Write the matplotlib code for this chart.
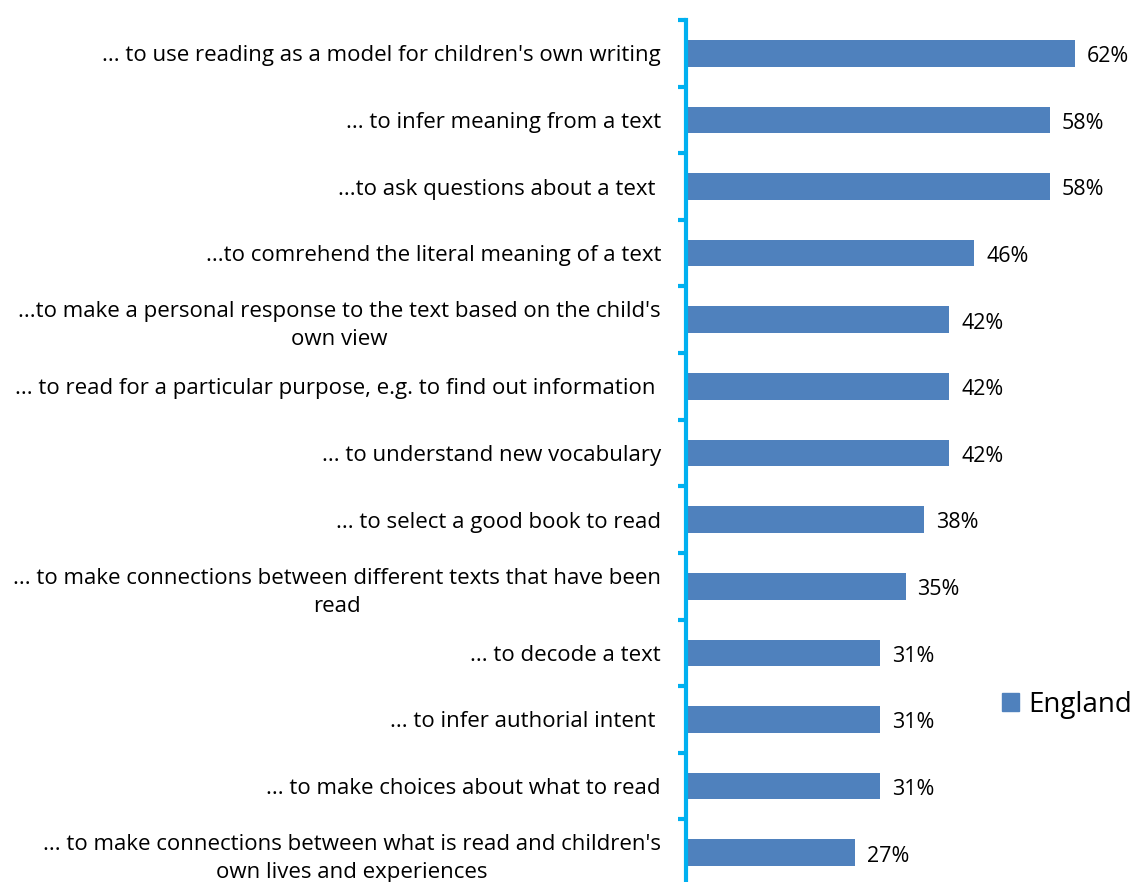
import numpy as np
import matplotlib.pyplot as plt
from matplotlib.patches import Patch

# survey items (top to bottom) and share of teachers, England
items = [
    "... to use reading as a model for children's own writing",
    "... to infer meaning from a text",
    "...to ask questions about a text ",
    "...to comrehend the literal meaning of a text",
    "...to make a personal response to the text based on the child's\nown view",
    "... to read for a particular purpose, e.g. to find out information ",
    "... to understand new vocabulary",
    "... to select a good book to read",
    "... to make connections between different texts that have been\nread",
    "... to decode a text",
    "... to infer authorial intent ",
    "... to make choices about what to read",
    "... to make connections between what is read and children's\nown lives and experiences",
]
england = [62, 58, 58, 46, 42, 42, 42, 38, 35, 31, 31, 31, 27]

plt.rcParams['font.family'] = ['Open Sans', 'DejaVu Sans']

W, H = 1137, 882
fig = plt.figure(figsize=(W / 100, H / 100), dpi=100)
# axes: spine at x~686px, top at y~20px
ax = fig.add_axes([686 / W, 1 - 886 / H, 439 / W, 866 / H])

bar_col = '#4F81BD'
axis_col = '#00B0F0'

pos = np.arange(len(items))
ax.barh(pos, england, height=0.4, color=bar_col)
for p, v in zip(pos, england):
    ax.text(v + 1.9, p + 0.05, f"{v}%", va='center', ha='left', fontsize=15.5)

ax.set_ylim(len(items) - 0.5, -0.5)
ax.set_xlim(0, 70)

ax.set_yticks(pos)
ax.set_yticklabels(items, fontsize=16, linespacing=1.45)
for lab in ax.get_yticklabels():
    lab.set_multialignment('center')
ax.tick_params(axis='y', which='major', length=0, pad=18)
ax.set_yticks(np.arange(-0.5, len(items), 1), minor=True)
ax.tick_params(axis='y', which='minor', length=6, width=3, color=axis_col)
ax.set_xticks([])

for s in ['top', 'right', 'bottom']:
    ax.spines[s].set_visible(False)
ax.spines['left'].set_color(axis_col)
ax.spines['left'].set_linewidth(3)

fig.legend(handles=[Patch(color=bar_col, label='England')],
           loc='center left', bbox_to_anchor=(1002 / W, 1 - 705 / H),
           frameon=False, fontsize=20, handlelength=0.6, handleheight=0.6,
           handletextpad=0.35, borderpad=0, borderaxespad=0)

fig.savefig('out.png', dpi=100)
